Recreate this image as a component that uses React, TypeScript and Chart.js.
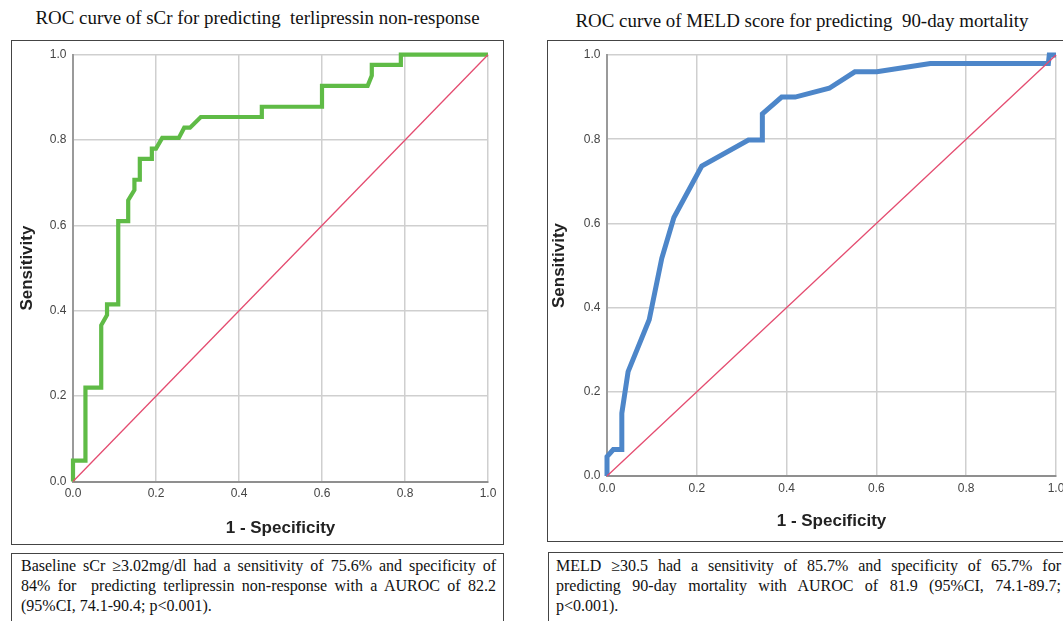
import React, { useEffect, useRef } from "react";
import { Chart, registerables } from "chart.js";

Chart.register(...registerables);

// ---- data ----
const tickValues = [0, 0.2, 0.4, 0.6, 0.8, 1.0];
const tickLabels = ["0.0", "0.2", "0.4", "0.6", "0.8", "1.0"];

const refLine = [0, 1];

// ROC of sCr for predicting terlipressin non-response (1 - specificity, sensitivity)
const scrFpr = [0, 0, 0.03, 0.03, 0.068, 0.068, 0.082, 0.082, 0.109, 0.109, 0.133, 0.133, 0.148, 0.148, 0.161, 0.161, 0.19, 0.19, 0.2, 0.215, 0.255, 0.268, 0.282, 0.308, 0.455, 0.455, 0.6, 0.6, 0.71, 0.72, 0.72, 0.79, 0.79, 1.0];
const scrTpr = [0, 0.049, 0.049, 0.22, 0.22, 0.366, 0.39, 0.415, 0.415, 0.61, 0.61, 0.659, 0.683, 0.707, 0.707, 0.756, 0.756, 0.78, 0.78, 0.805, 0.805, 0.829, 0.829, 0.854, 0.854, 0.878, 0.878, 0.927, 0.927, 0.951, 0.976, 0.976, 1.0, 1.0];

// ROC of MELD score for predicting 90-day mortality
const meldFpr = [0, 0, 0.014, 0.033, 0.033, 0.047, 0.094, 0.122, 0.149, 0.211, 0.315, 0.346, 0.346, 0.389, 0.419, 0.495, 0.552, 0.601, 0.72, 0.983, 0.985, 1.0];
const meldTpr = [0, 0.046, 0.063, 0.063, 0.149, 0.248, 0.371, 0.517, 0.614, 0.736, 0.798, 0.798, 0.86, 0.9, 0.9, 0.921, 0.96, 0.96, 0.98, 0.98, 1.0, 1.0];

const leftTitle = "ROC curve of sCr for predicting  terlipressin non-response";
const rightTitle = "ROC curve of MELD score for predicting  90-day mortality";
const xTitle = "1 - Specificity";
const yTitle = "Sensitivity";

const leftCaption = [
  "Baseline sCr \u22653.02mg/dl had a sensitivity of 75.6% and specificity of",
  "84% for  predicting terlipressin non-response with a AUROC of 82.2",
  "(95%CI, 74.1-90.4; p<0.001).",
];
const rightCaption = [
  "MELD \u226530.5 had a sensitivity of 85.7% and specificity of 65.7% for",
  "predicting 90-day mortality with AUROC of 81.9 (95%CI, 74.1-89.7;",
  "p<0.001).",
];

type Geom = {
  padTop: number;
  padRight: number;
  yWidth: number;
  xHeight: number;
  xTickPad: number;
  yTitlePad: number;
  xTitlePad: number;
};

function makeConfig(fpr: number[], tpr: number[], color: string, width: number, g: Geom): any {
  const tickFont = { family: '"Liberation Sans", Arial, sans-serif', size: 12 };
  const titleFont = { family: '"Liberation Sans", Arial, sans-serif', size: 17, weight: "bold" as const, lineHeight: 1.2 };
  const label = (v: any) => {
    const i = tickValues.findIndex((t) => Math.abs(t - Number(v)) < 1e-9);
    return i >= 0 ? tickLabels[i] : "";
  };
  const setTicks = (s: any) => {
    s.ticks = tickValues.map((v) => ({ value: v }));
  };
  return {
    type: "scatter",
    data: {
      datasets: [
        {
          data: refLine.map((v) => ({ x: v, y: v })),
          borderColor: "#e44c70",
          borderWidth: 1.3,
          showLine: true,
          pointRadius: 0,
          clip: false,
        },
        {
          data: fpr.map((x, i) => ({ x, y: tpr[i] })),
          borderColor: color,
          borderWidth: width,
          showLine: true,
          pointRadius: 0,
          borderJoinStyle: "miter",
          borderCapStyle: "butt",
          clip: false,
        },
      ],
    },
    options: {
      animation: false,
      responsive: false,
      events: [],
      plugins: { legend: { display: false }, tooltip: { enabled: false } },
      layout: { padding: { top: g.padTop, right: g.padRight, left: 0, bottom: 0 } },
      scales: {
        x: {
          type: "linear",
          min: 0,
          max: 1,
          afterBuildTicks: setTicks,
          afterFit: (s: any) => {
            s.height = g.xHeight;
          },
          ticks: { callback: label, font: tickFont, color: "#444", padding: g.xTickPad, maxRotation: 0, autoSkip: false },
          grid: { color: "#cfcfcf", lineWidth: 1.5, drawTicks: false },
          border: { color: "#8f8f8f", width: 2 },
          title: { display: true, text: xTitle, font: titleFont, color: "#222", padding: { top: 0, bottom: g.xTitlePad } },
        },
        y: {
          type: "linear",
          min: 0,
          max: 1,
          afterBuildTicks: setTicks,
          afterFit: (s: any) => {
            s.width = g.yWidth;
          },
          ticks: { callback: label, font: tickFont, color: "#444", padding: 6.5, autoSkip: false },
          grid: { color: "#cfcfcf", lineWidth: 1.5, drawTicks: false },
          border: { color: "#9a9a9a", width: 2 },
          title: { display: true, text: yTitle, font: titleFont, color: "#222", padding: { top: g.yTitlePad, bottom: 0 } },
        },
      },
    },
  };
}

const leftGeom: Geom = { padTop: 9.5, padRight: 14, yWidth: 61, xHeight: 61.5, xTickPad: 5.3, yTitlePad: 5.3, xTitlePad: 4.8 };
const rightGeom: Geom = { padTop: 14, padRight: 22, yWidth: 59, xHeight: 64, xTickPad: 5.8, yTitlePad: 1.5, xTitlePad: 8.8 };

const captionLine = (text: string, last: boolean, key: number) => (
  <div
    key={key}
    style={{
      whiteSpace: "pre",
      textAlign: last ? "left" : "justify",
      textAlignLast: last ? "left" : "justify",
      height: 20,
      overflow: "visible",
    } as any}
  >
    {text}
  </div>
);

export default function App() {
  const leftRef = useRef<HTMLCanvasElement | null>(null);
  const rightRef = useRef<HTMLCanvasElement | null>(null);

  useEffect(() => {
    const c1 = new Chart(leftRef.current as HTMLCanvasElement, makeConfig(scrFpr, scrTpr, "#5fbb46", 4.2, leftGeom));
    const c2 = new Chart(rightRef.current as HTMLCanvasElement, makeConfig(meldFpr, meldTpr, "#4d86c9", 5, rightGeom));
    return () => {
      c1.destroy();
      c2.destroy();
    };
  }, []);

  const serif = '"Liberation Serif", "Times New Roman", serif';
  const titleStyle: React.CSSProperties = {
    position: "absolute",
    fontFamily: serif,
    fontSize: 18,
    lineHeight: "18px",
    whiteSpace: "pre",
    textAlign: "center",
    color: "#111",
    transform: "scaleX(1.05)",
  };
  const boxStyle: React.CSSProperties = {
    position: "absolute",
    boxSizing: "border-box",
    border: "1px solid #444",
    background: "#fff",
  };
  const capStyle: React.CSSProperties = {
    ...boxStyle,
    fontFamily: serif,
    fontSize: 16,
    lineHeight: "20px",
    color: "#111",
    paddingTop: 2.8,
  };

  return (
    <div
      style={{
        position: "absolute",
        left: 0,
        top: 0,
        width: 1063,
        height: 621,
        overflow: "hidden",
        background: "#fff",
      }}
    >
      <div style={{ ...titleStyle, left: 11, top: 9, width: 493 }}>{leftTitle}</div>
      <div style={{ ...titleStyle, left: 547, top: 12, width: 510 }}>{rightTitle}</div>

      <div style={{ ...boxStyle, left: 11, top: 40, width: 493, height: 505 }} />
      <canvas ref={leftRef} width={490} height={502} style={{ position: "absolute", left: 12, top: 41 }} />

      <div style={{ ...boxStyle, left: 547, top: 40, width: 540, height: 501.5 }} />
      <canvas ref={rightRef} width={530} height={499} style={{ position: "absolute", left: 548, top: 41 }} />

      <div style={{ ...capStyle, left: 11, top: 552.5, width: 493, height: 90, paddingLeft: 9, paddingRight: 7 }}>
        {leftCaption.map((t, i) => captionLine(t, i === leftCaption.length - 1, i))}
      </div>
      <div style={{ ...capStyle, left: 548, top: 552, width: 540, height: 90, paddingLeft: 7, paddingRight: 26 }}>
        {rightCaption.map((t, i) => captionLine(t, i === rightCaption.length - 1, i))}
      </div>
    </div>
  );
}
